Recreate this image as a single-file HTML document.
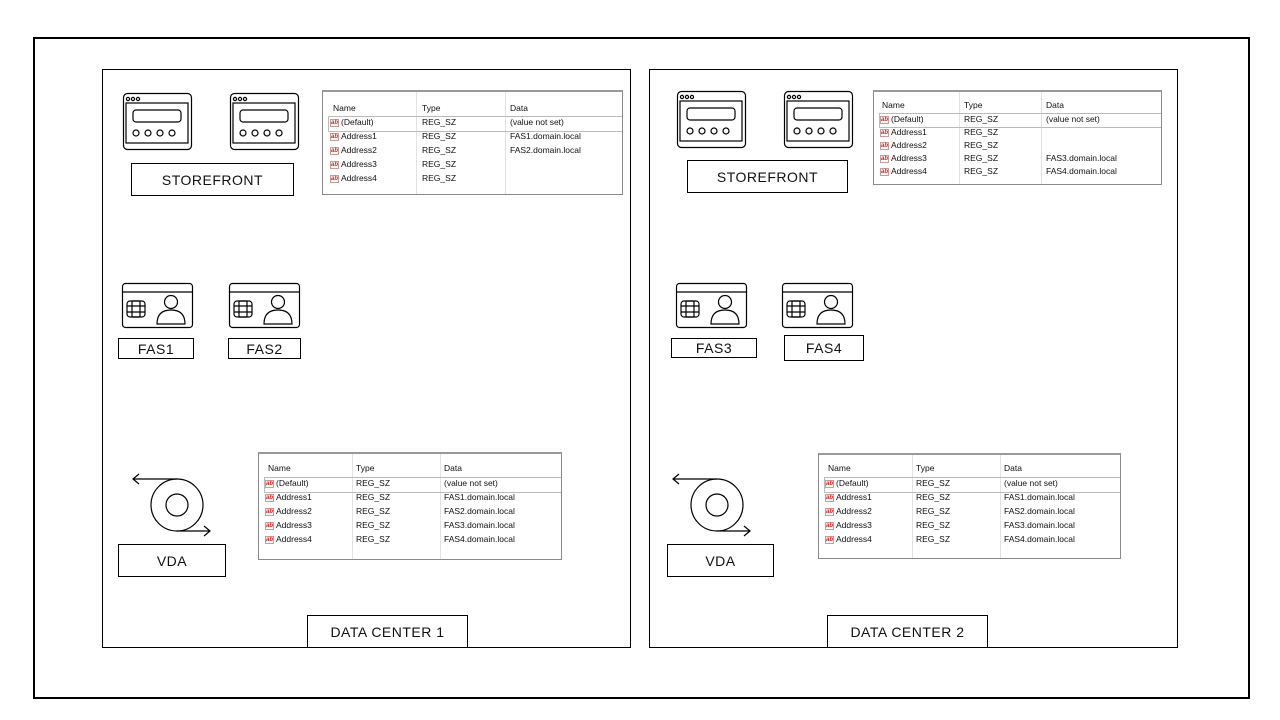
<!DOCTYPE html>
<html><head><meta charset="utf-8">
<style>
body{margin:0;width:1280px;height:720px;background:#fff;position:relative;overflow:hidden;font-family:"Liberation Sans",sans-serif}
.a{position:absolute;box-sizing:border-box}
.bx{position:absolute;box-sizing:border-box;border:1px solid #000;background:#fff;display:flex;align-items:center;justify-content:center;font-size:14px;color:#111;letter-spacing:0.5px}
.reg{position:absolute;box-sizing:border-box;border:1px solid #8a8a8a;border-top:2px solid #9a9a9a;background:#fff;font-size:8.5px;color:#111;overflow:hidden}
.reg .col{position:absolute;top:0;bottom:0;border-left:1px solid #e2e2e2}
.reg .r{position:absolute;left:0;right:0;white-space:nowrap}
.reg .r span{position:absolute}
.reg .hl{position:absolute;left:5px;right:0;border:1px solid #bbb;border-right:none}
.ic{display:inline-block;width:9px;height:8px;border:1px solid #c99;background:#fff;color:#d22;font-size:6px;line-height:7px;text-align:center;font-weight:bold;margin-right:2px;vertical-align:middle;box-sizing:border-box}
</style></head><body>
<div class="a" style="left:33px;top:37px;width:1217px;height:662px;border:2px solid #000"></div>
<div class="a" style="left:102px;top:69px;width:529px;height:579px;border:1px solid #000"></div>
<div class="a" style="left:649px;top:69px;width:529px;height:579px;border:1px solid #000"></div>

<svg class="a" style="left:0;top:0" width="1280" height="720" fill="none" stroke="#000" stroke-width="1.2">
<defs>
<g id="srv">
<rect x="0.5" y="0.5" width="68" height="56" rx="4"/>
<circle cx="5" cy="6" r="1.6"/><circle cx="10" cy="6" r="1.6"/><circle cx="15" cy="6" r="1.6"/>
<rect x="3" y="10" width="62" height="40"/>
<rect x="10" y="17" width="48" height="12" rx="3"/>
<circle cx="13" cy="40" r="3"/><circle cx="25" cy="40" r="3"/><circle cx="37" cy="40" r="3"/><circle cx="49" cy="40" r="3"/>
</g>
<g id="card">
<rect x="0.5" y="0.5" width="70" height="44" rx="3"/>
<line x1="0.5" y1="9" x2="70.5" y2="9"/>
<rect x="5" y="18" width="18" height="16" rx="3"/>
<line x1="5" y1="23" x2="23" y2="23"/><line x1="5" y1="29" x2="23" y2="29"/>
<rect x="10" y="18" width="8" height="16" rx="1"/>
<circle cx="49" cy="19" r="6.5"/>
<path d="M35 41 Q35 27 49 27 Q63 27 63 41 Z"/>
</g>
<g id="vda">
<circle cx="0" cy="0" r="26"/><circle cx="0" cy="0" r="11"/>
<line x1="0" y1="-26" x2="-44" y2="-26"/><path d="M-38 -31 L-44 -26 L-38 -21"/>
<line x1="0" y1="26" x2="33" y2="26"/><path d="M27 21 L33 26 L27 31"/>
</g>
</defs>
<use href="#srv" x="123" y="93"/><use href="#srv" x="230" y="93"/>
<use href="#srv" x="677" y="91"/><use href="#srv" x="784" y="91"/>
<use href="#card" x="122" y="283"/><use href="#card" x="229" y="283"/>
<use href="#card" x="676" y="283"/><use href="#card" x="782" y="283"/>
<use href="#vda" x="177" y="505"/><use href="#vda" x="717" y="505"/>
</svg>

<div class="bx" style="left:131px;top:163px;width:163px;height:33px">STOREFRONT</div>
<div class="bx" style="left:687px;top:160px;width:161px;height:33px">STOREFRONT</div>
<div class="bx" style="left:118px;top:338px;width:76px;height:21px">FAS1</div>
<div class="bx" style="left:228px;top:338px;width:73px;height:21px">FAS2</div>
<div class="bx" style="left:671px;top:338px;width:86px;height:20px">FAS3</div>
<div class="bx" style="left:784px;top:335px;width:80px;height:26px">FAS4</div>
<div class="bx" style="left:118px;top:544px;width:108px;height:33px">VDA</div>
<div class="bx" style="left:667px;top:544px;width:107px;height:33px">VDA</div>
<div class="bx" style="left:307px;top:615px;width:161px;height:33px">DATA CENTER 1</div>
<div class="bx" style="left:827px;top:615px;width:161px;height:33px">DATA CENTER 2</div>

<!-- DC1 top table -->
<div class="reg" style="left:322px;top:90px;width:301px;height:105px">
<div class="col" style="left:93px"></div><div class="col" style="left:182px"></div>
<div class="hl" style="top:24px;height:14px"></div>
<div class="r" style="top:11px"><span style="left:10px">Name</span><span style="left:99px">Type</span><span style="left:187px">Data</span></div>
<div class="r" style="top:25px"><span style="left:7px"><i class="ic">ab</i>(Default)</span><span style="left:99px">REG_SZ</span><span style="left:187px">(value not set)</span></div>
<div class="r" style="top:39px"><span style="left:7px"><i class="ic">ab</i>Address1</span><span style="left:99px">REG_SZ</span><span style="left:187px">FAS1.domain.local</span></div>
<div class="r" style="top:53px"><span style="left:7px"><i class="ic">ab</i>Address2</span><span style="left:99px">REG_SZ</span><span style="left:187px">FAS2.domain.local</span></div>
<div class="r" style="top:67px"><span style="left:7px"><i class="ic">ab</i>Address3</span><span style="left:99px">REG_SZ</span></div>
<div class="r" style="top:81px"><span style="left:7px"><i class="ic">ab</i>Address4</span><span style="left:99px">REG_SZ</span></div>
</div>

<!-- DC2 top table -->
<div class="reg" style="left:873px;top:90px;width:289px;height:95px">
<div class="col" style="left:85px"></div><div class="col" style="left:167px"></div>
<div class="hl" style="top:21px;height:13px"></div>
<div class="r" style="top:8px"><span style="left:8px">Name</span><span style="left:90px">Type</span><span style="left:172px">Data</span></div>
<div class="r" style="top:22px"><span style="left:6px"><i class="ic">ab</i>(Default)</span><span style="left:90px">REG_SZ</span><span style="left:172px">(value not set)</span></div>
<div class="r" style="top:35px"><span style="left:6px"><i class="ic">ab</i>Address1</span><span style="left:90px">REG_SZ</span></div>
<div class="r" style="top:48px"><span style="left:6px"><i class="ic">ab</i>Address2</span><span style="left:90px">REG_SZ</span></div>
<div class="r" style="top:61px"><span style="left:6px"><i class="ic">ab</i>Address3</span><span style="left:90px">REG_SZ</span><span style="left:172px">FAS3.domain.local</span></div>
<div class="r" style="top:74px"><span style="left:6px"><i class="ic">ab</i>Address4</span><span style="left:90px">REG_SZ</span><span style="left:172px">FAS4.domain.local</span></div>
</div>

<!-- DC1 bottom table -->
<div class="reg" style="left:258px;top:452px;width:304px;height:108px">
<div class="col" style="left:93px"></div><div class="col" style="left:181px"></div>
<div class="hl" style="top:23px;height:14px"></div>
<div class="r" style="top:9px"><span style="left:9px">Name</span><span style="left:97px">Type</span><span style="left:185px">Data</span></div>
<div class="r" style="top:24px"><span style="left:6px"><i class="ic">ab</i>(Default)</span><span style="left:97px">REG_SZ</span><span style="left:185px">(value not set)</span></div>
<div class="r" style="top:38px"><span style="left:6px"><i class="ic">ab</i>Address1</span><span style="left:97px">REG_SZ</span><span style="left:185px">FAS1.domain.local</span></div>
<div class="r" style="top:52px"><span style="left:6px"><i class="ic">ab</i>Address2</span><span style="left:97px">REG_SZ</span><span style="left:185px">FAS2.domain.local</span></div>
<div class="r" style="top:66px"><span style="left:6px"><i class="ic">ab</i>Address3</span><span style="left:97px">REG_SZ</span><span style="left:185px">FAS3.domain.local</span></div>
<div class="r" style="top:80px"><span style="left:6px"><i class="ic">ab</i>Address4</span><span style="left:97px">REG_SZ</span><span style="left:185px">FAS4.domain.local</span></div>
</div>

<!-- DC2 bottom table -->
<div class="reg" style="left:818px;top:453px;width:303px;height:106px">
<div class="col" style="left:93px"></div><div class="col" style="left:181px"></div>
<div class="hl" style="top:22px;height:14px"></div>
<div class="r" style="top:8px"><span style="left:9px">Name</span><span style="left:97px">Type</span><span style="left:185px">Data</span></div>
<div class="r" style="top:23px"><span style="left:6px"><i class="ic">ab</i>(Default)</span><span style="left:97px">REG_SZ</span><span style="left:185px">(value not set)</span></div>
<div class="r" style="top:37px"><span style="left:6px"><i class="ic">ab</i>Address1</span><span style="left:97px">REG_SZ</span><span style="left:185px">FAS1.domain.local</span></div>
<div class="r" style="top:51px"><span style="left:6px"><i class="ic">ab</i>Address2</span><span style="left:97px">REG_SZ</span><span style="left:185px">FAS2.domain.local</span></div>
<div class="r" style="top:65px"><span style="left:6px"><i class="ic">ab</i>Address3</span><span style="left:97px">REG_SZ</span><span style="left:185px">FAS3.domain.local</span></div>
<div class="r" style="top:79px"><span style="left:6px"><i class="ic">ab</i>Address4</span><span style="left:97px">REG_SZ</span><span style="left:185px">FAS4.domain.local</span></div>
</div>
</body></html>
